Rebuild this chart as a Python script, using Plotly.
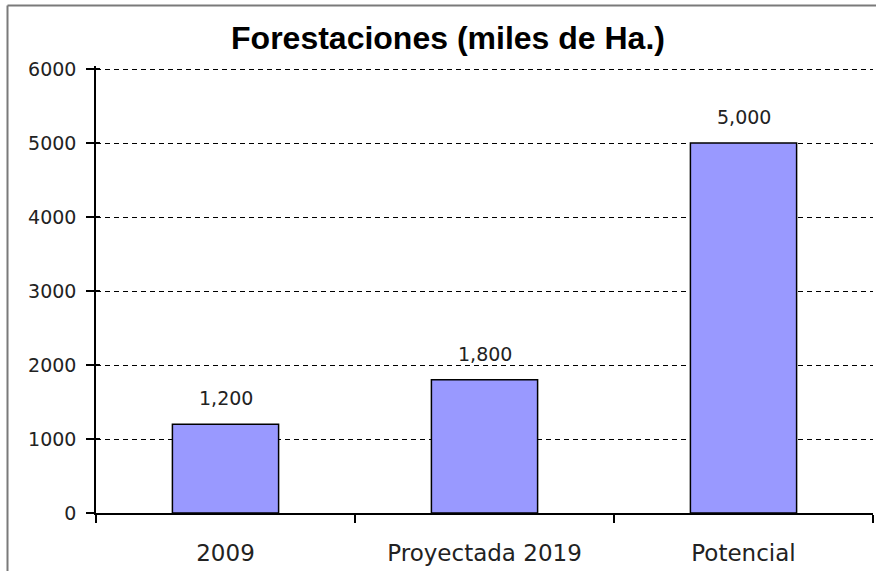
import plotly.graph_objects as go

categories = ["2009", "Proyectada 2019", "Potencial"]
values = [1200, 1800, 5000]
y_ticks = [0, 1000, 2000, 3000, 4000, 5000, 6000]
title_text = "Forestaciones (miles de Ha.)"

W, H = 876, 571
L, R, T, B = 96, 3, 66, 58
pw = W - L - R
ph = H - T - B                      # 447 px; 6000 sits 3 px below the top edge
YMAX = 6000 * ph / (ph - 3)

fig = go.Figure()
fig.add_trace(go.Bar(
    x=categories, y=values, width=0.41,
    marker=dict(color="#9999FF", line=dict(color="#000000", width=1.5)),
    hoverinfo="skip",
))
# invisible trace carrying the overlay axis used for the inner half of the y ticks
fig.add_trace(go.Scatter(x=categories, y=values, yaxis="y2", mode="markers",
                         marker=dict(opacity=0), hoverinfo="skip"))

for i, v in enumerate(values):
    fig.add_annotation(x=i, y=v, text=f"{v:,}", showarrow=False,
                       yanchor="middle", yshift=26,
                       font=dict(family="DejaVu Sans", size=19, color="#222222"))

# outer chart frame (left and top edges; the rest lies outside the picture)
frame_top = (H - B - 5.5) / ph
frame_left = (7.5 - L) / pw
fig.add_shape(type="line", xref="paper", yref="paper",
              x0=frame_left, x1=1.2, y0=frame_top, y1=frame_top,
              line=dict(color="#7a7a7a", width=2))
fig.add_shape(type="line", xref="paper", yref="paper",
              x0=frame_left, x1=frame_left, y0=-0.5, y1=frame_top,
              line=dict(color="#7a7a7a", width=2))

fig.update_layout(
    width=W, height=H,
    margin=dict(l=L, r=R, t=T, b=B, pad=0),
    paper_bgcolor="white", plot_bgcolor="white",
    showlegend=False,
    title=dict(text=title_text, x=448 / W, xanchor="center", xref="container",
               y=1 - 38 / H, yanchor="middle", yref="container",
               font=dict(family="Liberation Sans", size=32, color="#000000", weight="bold")),
    xaxis=dict(
        type="category", range=[-0.5, 2.5],
        showline=True, linecolor="#000000", linewidth=1.5,
        ticks="outside", ticklen=8, tickcolor="#000000", tickwidth=1.5,
        tickson="boundaries", showgrid=False,
        tickfont=dict(family="DejaVu Sans", size=23, color="#222222"),
        ticklabelstandoff=19,
    ),
    yaxis=dict(
        range=[0, YMAX], tickvals=y_ticks, ticktext=[str(t) for t in y_ticks],
        showline=True, linecolor="#000000", linewidth=1.5,
        ticks="outside", ticklen=8, tickcolor="#000000", tickwidth=1.5,
        showgrid=True, gridcolor="#000000", gridwidth=1.2, griddash="5px,4px",
        zeroline=False,
        tickfont=dict(family="DejaVu Sans", size=19, color="#222222"),
        ticklabelstandoff=6,
    ),
    yaxis2=dict(
        range=[0, YMAX], tickvals=y_ticks, overlaying="y", side="left",
        showline=False, ticks="inside", ticklen=4, tickcolor="#000000", tickwidth=1.5,
        showticklabels=False, showgrid=False, zeroline=False,
    ),
)

fig.write_html("out.html", config={"displayModeBar": False},
               post_script="document.body.style.margin='0';")
